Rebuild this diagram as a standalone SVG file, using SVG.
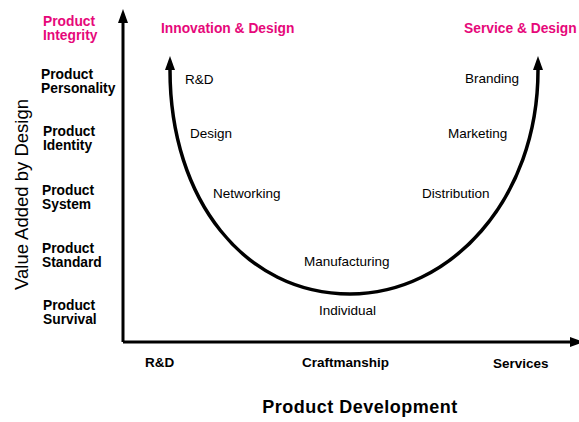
<svg xmlns="http://www.w3.org/2000/svg" width="579" height="422" viewBox="0 0 579 422">
  <defs>
    <marker id="arr" markerUnits="userSpaceOnUse" markerWidth="14" markerHeight="10" refX="0" refY="5" orient="auto-start-reverse" viewBox="0 0 14 10">
      <path d="M0,0 L14,5 L0,10 Z" fill="#000"/>
    </marker>
    <style>
      text { font-family: "Liberation Sans", Arial, sans-serif; }
      .lvl { font-size: 13.8px; font-weight: bold; fill: #000; }
      .pink { font-size: 13.8px; font-weight: bold; fill: #E6087A; }
      .lbl { font-size: 13.5px; fill: #000; }
      .xl { font-size: 13.5px; font-weight: bold; fill: #000; }
      .axis { stroke: #000; stroke-width: 3; fill: none; }
      .curve { stroke: #000; stroke-width: 3.5; fill: none; }
    </style>
  </defs>
  <rect width="579" height="422" fill="#fff"/>

  <g id="connectors">
    <path class="axis" d="M123,342 L123,23" marker-end="url(#arr)"/>
    <path class="axis" d="M123,342 L570,342" marker-end="url(#arr)"/>
    <path class="curve" d="M170,70 C170,200 245,294 350,294 C450,294 538,200 538,70" marker-start="url(#arr)" marker-end="url(#arr)"/>
  </g>

  <g id="y-title">
    <text class="lbl" style="font-size:18.5px" transform="translate(28,194.5) rotate(-90)" text-anchor="middle">Value Added by Design</text>
  </g>

  <g id="level-integrity">
    <text class="pink" x="43" y="26">Product</text>
    <text class="pink" x="43" y="40">Integrity</text>
  </g>
  <g id="level-personality">
    <text class="lvl" x="41" y="79">Product</text>
    <text class="lvl" x="41" y="93">Personality</text>
  </g>
  <g id="level-identity">
    <text class="lvl" x="43" y="136">Product</text>
    <text class="lvl" x="43" y="150">Identity</text>
  </g>
  <g id="level-system">
    <text class="lvl" x="42" y="195">Product</text>
    <text class="lvl" x="42" y="209">System</text>
  </g>
  <g id="level-standard">
    <text class="lvl" x="42" y="253">Product</text>
    <text class="lvl" x="42" y="267">Standard</text>
  </g>
  <g id="level-survival">
    <text class="lvl" x="43" y="310">Product</text>
    <text class="lvl" x="43" y="324">Survival</text>
  </g>

  <g id="innovation-design"><text class="pink" x="161" y="33">Innovation &amp; Design</text></g>
  <g id="service-design"><text class="pink" x="464" y="33">Service &amp; Design</text></g>

  <g id="rd"><text class="lbl" x="185" y="84">R&amp;D</text></g>
  <g id="design"><text class="lbl" x="190" y="138">Design</text></g>
  <g id="networking"><text class="lbl" x="213" y="198">Networking</text></g>
  <g id="manufacturing"><text class="lbl" x="304" y="266">Manufacturing</text></g>
  <g id="individual"><text class="lbl" x="319" y="315">Individual</text></g>
  <g id="distribution"><text class="lbl" x="422" y="198">Distribution</text></g>
  <g id="marketing"><text class="lbl" x="448" y="138">Marketing</text></g>
  <g id="branding"><text class="lbl" x="465" y="83">Branding</text></g>

  <g id="x-rd"><text class="xl" x="145" y="367">R&amp;D</text></g>
  <g id="x-craftmanship"><text class="xl" x="302" y="367">Craftmanship</text></g>
  <g id="x-services"><text class="xl" x="493" y="368">Services</text></g>

  <g id="x-title"><text class="xl" style="font-size:18px;letter-spacing:0.5px" x="360" y="413" text-anchor="middle">Product Development</text></g>
</svg>
